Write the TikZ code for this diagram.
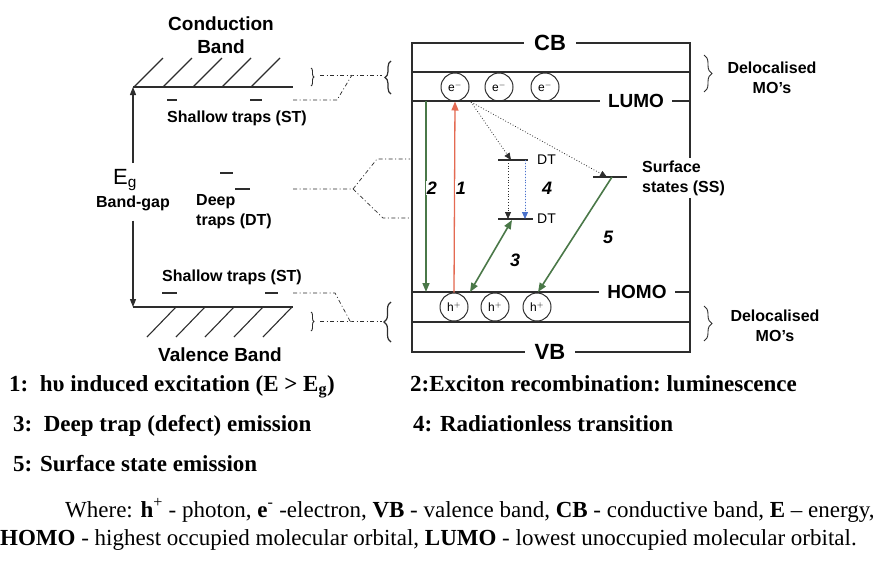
\documentclass[tikz,border=0pt]{standalone}
\usepackage{fontspec}
\setmainfont{Liberation Serif}
\setsansfont{Liberation Sans}
\usepackage{tikz}
\usetikzlibrary{arrows.meta,positioning,calc,decorations.pathreplacing}
\definecolor{bandink}{RGB}{45,45,45}
\definecolor{bandgreen}{RGB}{74,120,72}
\definecolor{bandred}{RGB}{228,106,82}
\definecolor{bandblue}{RGB}{74,114,204}
\tikzset{
  band line/.style={draw=bandink, line width=1.1pt},
  trap dash/.style={draw=bandink, line width=1.1pt},
  link line/.style={draw=bandink, line width=0.7pt,
    dash pattern=on 4pt off 2.5pt on 1pt off 2.5pt},
  band brace/.style={draw=bandink, line width=0.9pt, decorate,
    decoration={brace, amplitude=#1}},
  band brace/.default=5pt,
  big label/.style={font=\sffamily\bfseries\fontsize{19}{23}\selectfont,
    align=center, inner sep=1pt},
  small label/.style={font=\sffamily\bfseries\fontsize{16}{20}\selectfont,
    align=center, inner sep=1pt},
  level label/.style={font=\sffamily\bfseries\fontsize{19}{19}\selectfont,
    fill=white, inner xsep=8pt, inner ysep=1pt},
  carrier/.style={circle, draw=bandink, line width=1pt, minimum size=28pt,
    inner sep=0pt, font=\sffamily\fontsize{12}{12}\selectfont},
  trap label/.style={font=\sffamily\fontsize{14}{14}\selectfont,
    anchor=west, inner sep=1pt},
  path num/.style={font=\sffamily\bfseries\itshape\fontsize{18}{18}\selectfont,
    inner sep=1pt},
  gap arrow/.style={draw=bandink, line width=1.1pt,
    -{Triangle[length=8pt,width=6pt]}},
  emit arrow/.style={line width=1.6pt, -{Triangle[length=9pt,width=7pt]}},
  hop arrow/.style={line width=0.8pt, dotted,
    -{Triangle[length=7pt,width=6pt]}},
  legend line/.style={font=\bfseries\fontsize{23}{23}\selectfont,
    anchor=base west, inner sep=0pt},
  note line/.style={font=\fontsize{23}{23}\selectfont,
    anchor=base west, inner sep=0pt},
}
\begin{document}
\begin{tikzpicture}[x=1pt,y=-1pt]
  \useasboundingbox (0,0) rectangle (889,560);

  % bulk bands (left)
  \coordinate (cbL) at (133,87);
  \coordinate (cbR) at (293,87);
  \coordinate (vbL) at (133,307);
  \coordinate (vbR) at (293,307);
  \draw[band line] (cbL) -- (cbR);
  \draw[band line] (vbL) -- (vbR);
  \foreach \x in {134,163,193,222,251}
    \draw[band line] (\x,87) -- ++(29,-29);
  \foreach \x in {147,176,205,234,263}
    \draw[band line] (\x,337) -- ++(29,-30);
  \node[big label] (cond) at (221,35) {Conduction\\Band};
  \node[big label] (val) at (220,355) {Valence Band};

  \node[font=\sffamily\fontsize{22}{22}\selectfont, inner sep=0pt] (eg) at (125,180) {E\textsubscript{g}};
  \node[small label] (gap) at (133,203) {Band-gap};
  \draw[gap arrow] ([yshift=6pt]eg.north -| cbL) -- (cbL);
  \draw[gap arrow] ([yshift=-9pt]gap.south -| vbL) -- (vbL);

  % trap levels
  \draw[trap dash] (167,100) -- (177,100);
  \draw[trap dash] (250,100) -- (262,100);
  \draw[trap dash] (162,293) -- (177,293);
  \draw[trap dash] (265,293) -- (278,293);
  \draw[trap dash] (220,173) -- (233,173);
  \draw[trap dash] (235,189) -- (250,189);
  \node[small label] (stup) at (237,118) {Shallow traps (ST)};
  \node[small label] (stdn) at (232,277) {Shallow traps (ST)};
  \node[small label, align=left, anchor=west] (deep) at (195,212) {Deep\\traps (DT)};

  % links to the particle picture
  \draw[band brace=3pt] (311,68) -- (311,86);
  \draw[band brace=3pt] (311,312) -- (311,331);
  \draw[band brace=6pt, line width=1.2pt] (391,94) -- (391,61);
  \draw[band brace=7pt, line width=1.2pt] (391,342) -- (391,302);
  \coordinate (cbLink) at (352,75);
  \coordinate (vbLink) at (350,321);
  \coordinate (dtLink) at (353,189);
  \draw[link line] (320,75) -- (cbLink) -- (382,75);
  \draw[link line] (293,100) -- (337,100) -- (cbLink);
  \draw[link line] (320,321) -- (vbLink) -- (382,321);
  \draw[link line] (293,293) -- (335,293) -- (vbLink);
  \draw[link line] (293,189) -- (dtLink) -- (377,159) -- (410,159);
  \draw[link line] (dtLink) -- (383,218) -- (410,218);

  % particle picture (right)
  \draw[band line] (412,43) rectangle (690,352);
  \foreach \y in {72,101,292,322}
    \draw[band line] (412,\y) -- (690,\y);
  \node[level label, font=\sffamily\bfseries\fontsize{22}{22}\selectfont, inner xsep=10pt] (cb) at (550,43) {CB};
  \node[level label, font=\sffamily\bfseries\fontsize{22}{22}\selectfont, inner xsep=10pt] (vb) at (550,352) {VB};
  \node[level label] (lumo) at (636,101) {LUMO};
  \node[level label] (homo) at (637,292) {HOMO};

  \node[carrier] (e1) at (455,87) {e$^{-}$};
  \node[carrier] (e2) at (499,87) {e$^{-}$};
  \node[carrier] (e3) at (545,87) {e$^{-}$};
  \node[carrier] (h1) at (454,307) {h$^{+}$};
  \node[carrier] (h2) at (495,307) {h$^{+}$};
  \node[carrier] (h3) at (537,307) {h$^{+}$};

  \draw[band brace=8pt] (704,55) -- (704,92);
  \draw[band brace=8pt] (704,306) -- (704,341);
  \node[small label] (delocup) at (772,78) {Delocalised\\MO’s};
  \node[small label] (delocdn) at (775,326) {Delocalised\\MO’s};

  % defect and surface levels
  \coordinate (dtupL) at (498,160);
  \coordinate (dtupR) at (528,160);
  \coordinate (dtdnL) at (498,219);
  \coordinate (dtdnR) at (533,219);
  \coordinate (ssL) at (593,177);
  \coordinate (ssR) at (627,177);
  \draw[band line] (dtupL) -- (dtupR);
  \draw[band line] (dtdnL) -- (dtdnR);
  \draw[band line] (ssL) -- (ssR);
  \node[trap label] (dtup) at (536,160) {DT};
  \node[trap label] (dtdn) at (536,219) {DT};
  \node[small label, align=left, anchor=west, fill=white, inner sep=3pt] (ss) at (639,178) {Surface\\states (SS)};

  % transitions
  \coordinate (lumo2) at (426,101);
  \coordinate (homo2) at (426,292);
  \coordinate (hopstart) at (471,102);
  \coordinate (dthit) at (511,160);
  \coordinate (sshit) at (607,177);
  \coordinate (dtA) at (508,160);
  \coordinate (dtAdn) at (508,219);
  \coordinate (dtB) at (525,160);
  \coordinate (dtBdn) at (525,219);
  \coordinate (homo3) at (470,292);
  \coordinate (dt3) at (512,220);
  \coordinate (ss5) at (612,177);
  \coordinate (homo5) at (538,292);
  \draw[emit arrow, draw=bandgreen, fill=bandgreen] (lumo2) -- (homo2);
  \draw[emit arrow, draw=bandred, fill=bandred, line width=1.3pt] (h1.north) -- (e1.south);
  \draw[hop arrow, draw=bandink] (hopstart) -- (dthit);
  \draw[hop arrow, draw=bandink] (hopstart) -- (sshit);
  \draw[hop arrow, draw=bandink] (dtA) -- (dtAdn);
  \draw[hop arrow, draw=bandblue, fill=bandblue] (dtB) -- (dtBdn);
  \draw[emit arrow, {Triangle[length=9pt,width=7pt]}-{Triangle[length=9pt,width=7pt]}, draw=bandgreen, fill=bandgreen] (homo3) -- (dt3);
  \draw[emit arrow, draw=bandgreen, fill=bandgreen] (ss5) -- (homo5);
  \node[path num, fill=white, minimum width=12pt] (n2) at (432,188) {2};
  \node[path num, fill=white, minimum width=12pt] (n1) at (461,188) {1};
  \node[path num] (n4) at (547,188) {4};
  \node[path num] (n3) at (515,260) {3};
  \node[path num] (n5) at (608,237) {5};

  % legend
  \node[legend line] (leg1) at (9,391) {1:\ \ hυ induced excitation (E > E\textsubscript{g})};
  \node[legend line] (leg2) at (410,391) {2:Exciton recombination:\ luminescence};
  \node[legend line] (leg3) at (13,431) {3:\ \ Deep trap (defect) emission};
  \node[legend line] (leg4) at (413,431) {4: Radiationless transition};
  \node[legend line] (leg5) at (13,471) {5: Surface state emission};
  \node[note line] (where1) at (65,517) {Where: \textbf{h}\textsuperscript{+} - photon, \textbf{e}\textsuperscript{-} -electron, \textbf{VB} - valence band, \textbf{CB} - conductive band, \textbf{E} – energy,};
  \node[note line] (where2) at (0,545) {\textbf{HOMO} - highest occupied molecular orbital, \textbf{LUMO} - lowest unoccupied molecular orbital.};
\end{tikzpicture}
\end{document}
